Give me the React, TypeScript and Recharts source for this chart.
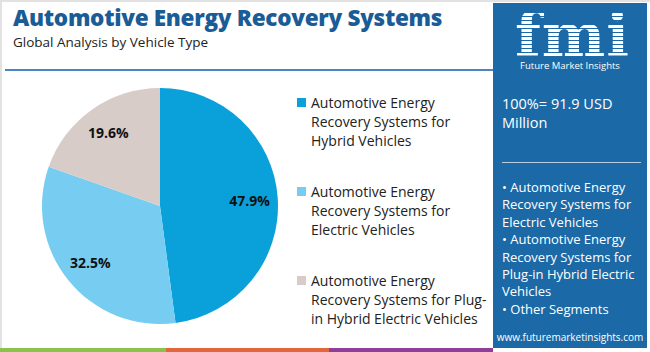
import React from 'react';
import { PieChart, Pie, Cell, Legend } from 'recharts';

const segments = [
    'Automotive Energy Recovery Systems for Hybrid Vehicles',
    'Automotive Energy Recovery Systems for Electric Vehicles',
    'Automotive Energy Recovery Systems for Plug-in Hybrid Electric Vehicles',
];
const legendLines = [
    ['Automotive Energy', 'Recovery Systems for', 'Hybrid Vehicles'],
    ['Automotive Energy', 'Recovery Systems for', 'Electric Vehicles'],
    ['Automotive Energy', 'Recovery Systems for Plug-', 'in Hybrid Electric Vehicles'],
];
const shares = [47.9, 32.5, 19.6];
const colors = ['#0aa1db', '#76cdf1', '#d7ccc8'];

const panelBullets = [
    ['• Automotive Energy', 'Recovery Systems for', 'Electric Vehicles'],
    ['• Automotive Energy', 'Recovery Systems for', 'Plug-in Hybrid Electric', 'Vehicles'],
    ['• Other Segments'],
];
const footerStripes = ['#8bc34a', '#e2673c', '#8e3f9a'];

const data = segments.map((name, i) => ({ name, value: shares[i] }));

const FONT = '"Open Sans", "Noto Sans", sans-serif';
const RADIAN = Math.PI / 180;

const renderLabel = ({ cx, cy, midAngle, outerRadius, value }: any) => {
    const r = outerRadius * 0.76;
    const x = cx + r * Math.cos(-midAngle * RADIAN);
    const y = cy + r * Math.sin(-midAngle * RADIAN);
    return (
        <text x={x} y={y} textAnchor="middle" dominantBaseline="central"
            fontFamily={FONT} fontWeight={700} fontSize={14} fill="#111">
            {value.toFixed(1)}%
        </text>
    );
};

const LegendContent = () => (
    <div style={{ fontFamily: FONT, fontSize: 14, color: '#222', lineHeight: '19px' }}>
        {legendLines.map((lines, i) => (
            <div key={i} style={{ position: 'relative', paddingLeft: 14, marginBottom: i < 2 ? 32 : 0 }}>
                <span style={{
                    position: 'absolute', left: 0, top: 5, width: 9, height: 9, background: colors[i],
                }} />
                {lines.map((l, j) => <div key={j}>{l}</div>)}
            </div>
        ))}
    </div>
);

export default function App() {
    return (
        <div style={{
            position: 'absolute', left: 0, top: 0, width: 650, height: 352, background: '#fff',
            overflow: 'hidden', fontFamily: FONT,
        }}>
            <div style={{ position: 'absolute', left: 0, top: 0, width: 650, height: 2, background: '#e2e2e2' }} />
            <div style={{ position: 'absolute', left: 0, top: 0, width: 2, height: 352, background: '#e2e2e2' }} />

            <div style={{
                position: 'absolute', left: 13, top: 4, fontSize: 22.5, lineHeight: '28px', fontWeight: 800,
                color: '#1a5c96', whiteSpace: 'nowrap', letterSpacing: -0.3,
            }}>
                Automotive Energy Recovery Systems
            </div>
            <div style={{ position: 'absolute', left: 13, top: 33, fontSize: 13.5, lineHeight: '18px', color: '#222' }}>
                Global Analysis by Vehicle Type
            </div>
            <div style={{ position: 'absolute', left: 5, top: 69, width: 488, height: 2, background: '#4a86c2' }} />

            <div style={{ position: 'absolute', left: 0, top: 0 }}>
                <PieChart width={493} height={345} margin={{ top: 0, right: 0, bottom: 0, left: 0 }}>
                    <Pie data={data} dataKey="value" nameKey="name" cx={160} cy={206} outerRadius={118}
                        startAngle={90} endAngle={-270} stroke="none" label={renderLabel} labelLine={false}
                        isAnimationActive={false}>
                        {data.map((d, i) => <Cell key={d.name} fill={colors[i]} />)}
                    </Pie>
                    <Legend content={<LegendContent />} layout="vertical" verticalAlign="top" align="right"
                        wrapperStyle={{ left: 297, top: 93, width: 195 }} />
                </PieChart>
            </div>

            <div style={{
                position: 'absolute', left: 493, top: 3, width: 154, height: 345, background: '#1b69a6',
                color: '#fff',
            }}>
                <div style={{
                    position: 'absolute', left: 22, top: 10, height: 44, overflow: 'visible',
                    fontFamily: '"DejaVu Serif", serif', fontWeight: 700,
                    fontSize: 60, lineHeight: '44px', letterSpacing: 1,
                    backgroundImage: 'repeating-linear-gradient(180deg, #fff 0px, #fff 3px, #1b69a6 3px, #1b69a6 4px)',
                    WebkitBackgroundClip: 'text', backgroundClip: 'text', color: 'transparent',
                }}>
                    fmi
                </div>
                <div style={{
                    position: 'absolute', left: 0, width: 154, top: 57, textAlign: 'center', fontSize: 9.5,
                    lineHeight: '12px',
                }}>
                    Future Market Insights
                </div>
                <div style={{ position: 'absolute', left: 9, top: 91, fontSize: 14.5, lineHeight: '19px' }}>
                    100%= 91.9 USD<br />Million
                </div>
                <div style={{ position: 'absolute', left: 9, top: 159, width: 139, height: 1, background: '#b8cde0' }} />
                <div style={{ position: 'absolute', left: 9, top: 176, fontSize: 13, lineHeight: '17.4px' }}>
                    {panelBullets.map((b, i) => b.map((l, j) => <div key={`${i}-${j}`}>{l}</div>))}
                </div>
                <div style={{ position: 'absolute', left: 0, width: 154, top: 327, textAlign: 'center', fontSize: 10 }}>
                    www.futuremarketinsights.com
                </div>
            </div>

            <div style={{ position: 'absolute', left: 0, top: 348, display: 'flex', height: 4 }}>
                {footerStripes.map((c, i) => (
                    <div key={c} style={{ width: i === 0 ? 166 : i === 1 ? 163 : 164, background: c }} />
                ))}
            </div>
        </div>
    );
}
